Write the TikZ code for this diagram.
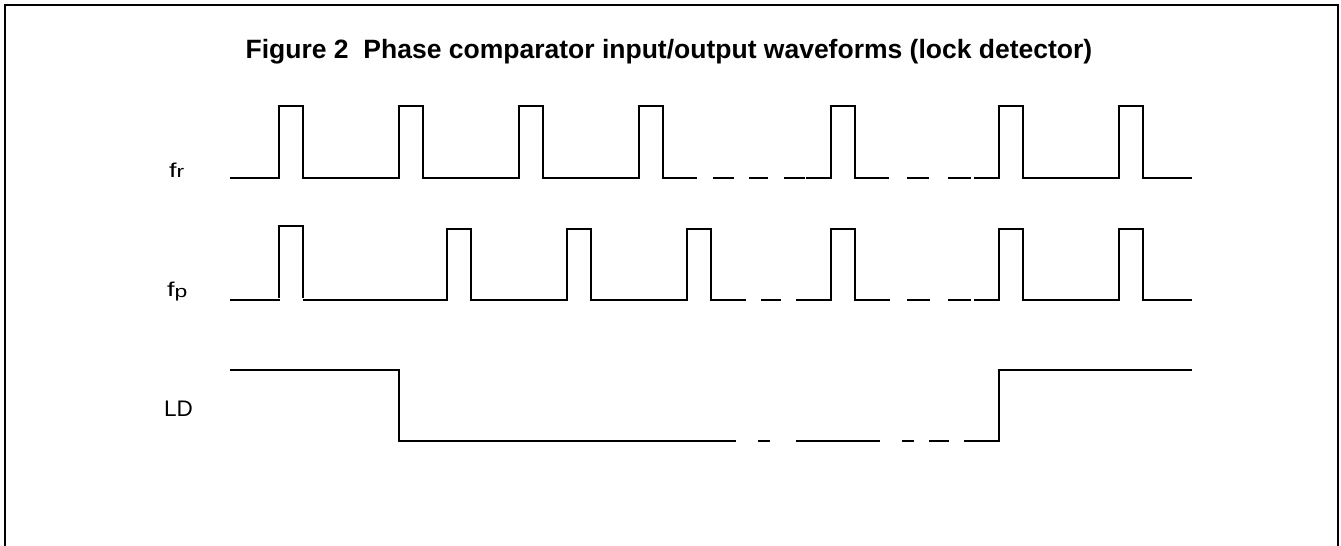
\documentclass[tikz,border=0pt]{standalone}
\usepackage{fontspec}
\setmainfont{Liberation Sans}
\begin{document}
\begin{tikzpicture}[x=1pt,y=-1pt,line join=miter,
  wave/.style={draw=black,line width=2pt},
  frameline/.style={draw=black,line width=2pt},
  sig/.style={inner sep=0pt,anchor=base west,font=\fontsize{20}{22}\selectfont},
  ttl/.style={inner sep=0pt,anchor=base,font=\fontsize{26.5}{30}\selectfont\bfseries}]
\useasboundingbox (0,0) rectangle (1341,546);
% frame
\draw[frameline] (5,560) -- (5,5) -- (1338,5) -- (1338,560);
% title
\node[ttl] (title) at (669,58) {Figure 2\ \ Phase comparator input/output waveforms (lock detector)};
% labels
\node[sig] (lfr) at (169,177) {\scalebox{1.35}[1]{f{\fontsize{17}{17}\selectfont r}}};
\node[sig] (lfp) at (167,296) {\scalebox{1.35}[1]{f{\fontsize{17}{17}\selectfont\raisebox{-1pt}{p}}}};
\node[sig,font=\fontsize{22.5}{24}\selectfont] (lld) at (164,416) {LD};
% fr waveform
\draw[wave] (230,178) -- (279,178) -- (279,106) -- (303,106) -- (303,178)
  -- (399,178) -- (399,106) -- (423,106) -- (423,178)
  -- (519,178) -- (519,106) -- (543,106) -- (543,178)
  -- (639,178) -- (639,106) -- (663,106) -- (663,178) -- (697,178);
\draw[wave] (713,178) -- (734,178);
\draw[wave] (749,178) -- (768,178);
\draw[wave] (784,178) -- (805,178);
\draw[wave] (806,178) -- (831,178) -- (831,106) -- (855,106) -- (855,178) -- (889,178);
\draw[wave] (907,178) -- (929,178);
\draw[wave] (948,178) -- (971,178);
\draw[wave] (974,178) -- (999,178) -- (999,106) -- (1023,106) -- (1023,178)
  -- (1119,178) -- (1119,106) -- (1143,106) -- (1143,178) -- (1192,178);
% fp waveform
\draw[wave] (230,300) -- (279.5,300);
\draw[wave] (279,297.5) -- (279,226) -- (303,226) -- (303,297.5);
\draw[wave] (302.5,300) -- (447,300) -- (447,229) -- (471,229) -- (471,300)
  -- (567,300) -- (567,229) -- (591,229) -- (591,300)
  -- (687,300) -- (687,229) -- (711,229) -- (711,300) -- (746,300);
\draw[wave] (761,300) -- (781,300);
\draw[wave] (796,300) -- (831,300) -- (831,229) -- (855,229) -- (855,300) -- (890,300);
\draw[wave] (907,300) -- (930,300);
\draw[wave] (948,300) -- (971,300);
\draw[wave] (974,300) -- (999,300) -- (999,229) -- (1023,229) -- (1023,300)
  -- (1119,300) -- (1119,229) -- (1143,229) -- (1143,300) -- (1192,300);
% LD waveform
\draw[wave] (230,370) -- (399,370) -- (399,441) -- (736,441);
\draw[wave] (758,441) -- (770,441);
\draw[wave] (796,441) -- (880,441);
\draw[wave] (902,441) -- (914,441);
\draw[wave] (929,441) -- (949,441);
\draw[wave] (964,441) -- (999,441) -- (999,370) -- (1192,370);
\end{tikzpicture}
\end{document}
